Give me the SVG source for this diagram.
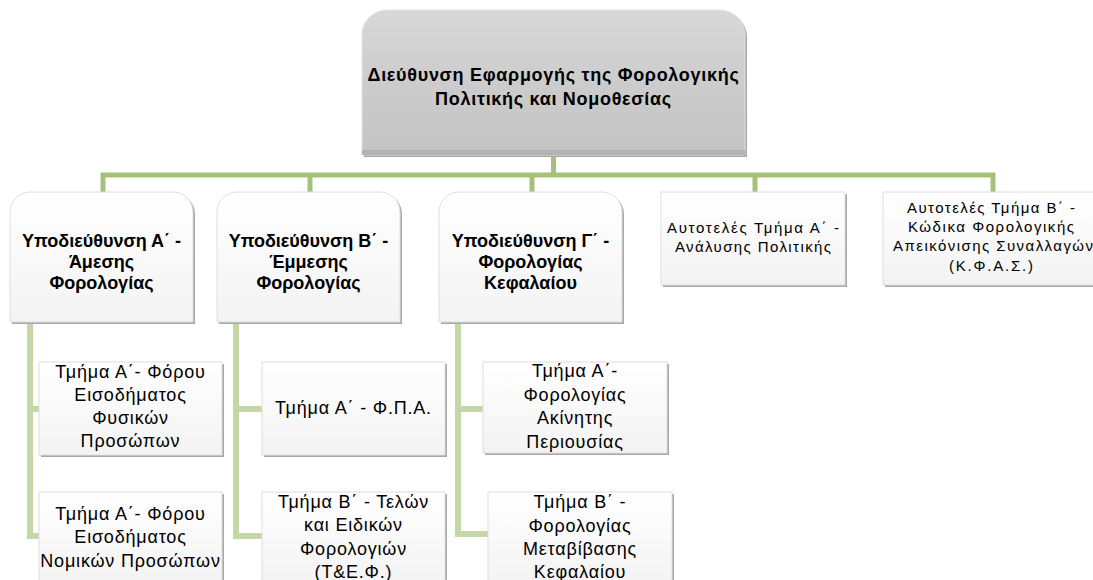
<svg xmlns="http://www.w3.org/2000/svg" width="1093" height="580" viewBox="0 0 1093 580">
<defs>
<linearGradient id="gTop" x1="0" y1="0" x2="0" y2="1">
<stop offset="0" stop-color="#d8d8d8"/><stop offset="0.5" stop-color="#cccccc"/><stop offset="1" stop-color="#c4c4c4"/>
</linearGradient>
<linearGradient id="gWhite" x1="0" y1="0" x2="0" y2="1">
<stop offset="0" stop-color="#ffffff"/><stop offset="1" stop-color="#f3f3f3"/>
</linearGradient>
</defs>
<style>
.shadow{fill:#a8a8a8}
.box{fill:url(#gWhite);stroke:#dedede;stroke-width:1}
.topbox{fill:url(#gTop);stroke:#e2e2e2;stroke-width:1}
.t{font-family:"Liberation Sans",Arial,sans-serif;fill:#000;text-anchor:middle}
.t0{font-size:18px;font-weight:bold;letter-spacing:0.7px}
.tb{font-size:18px;font-weight:bold}
.tm{font-size:18px;letter-spacing:0.8px}
.ts{font-size:15px}
.c1{fill:none;stroke:#a6c27a;stroke-width:5}
.c2{fill:none;stroke:#c5d6a7;stroke-width:6}
</style>

<g id="connectors">
<path class="c1" d="M553.5,155 V175"/>
<path class="c1" d="M103,192 V175 H993 V192"/>
<path class="c1" d="M310,175 V192 M532,175 V192 M755,175 V192"/>
<path class="c2" d="M30,322 V536 H40 M30,409 H40"/>
<path class="c2" d="M236,322 V536 H263 M236,409 H263"/>
<path class="c2" d="M458,322 V534 H489 M458,409 H484"/>
</g>

<g id="n0">
<path class="shadow" d="M364,37 A25,25 0 0 1 389,12 H722 A25,25 0 0 1 747,37 V157 H364 Z"/>
<path class="topbox" d="M362,35 A25,25 0 0 1 387,10 H720 A25,25 0 0 1 745,35 V155 H362 Z"/>
<rect x="362" y="150" width="383" height="5" fill="#b3b3b3"/>
<text class="t t0" x="553.5" y="81">Διεύθυνση Εφαρμογής της Φορολογικής</text>
<text class="t t0" x="553.5" y="105">Πολιτικής και Νομοθεσίας</text>
</g>

<g id="n1">
<path class="shadow" d="M12,214 A20,20 0 0 1 32,194 H175 A20,20 0 0 1 195,214 V324 H12 Z"/>
<path class="box" d="M10,212 A20,20 0 0 1 30,192 H173 A20,20 0 0 1 193,212 V322 H10 Z"/>
<text class="t tb" x="101.5" y="247">Υποδιεύθυνση Α΄ -</text>
<text class="t tb" x="101.5" y="268">Άμεσης</text>
<text class="t tb" x="101.5" y="289">Φορολογίας</text>
</g>

<g id="n2">
<path class="shadow" d="M219,214 A20,20 0 0 1 239,194 H382 A20,20 0 0 1 402,214 V324 H219 Z"/>
<path class="box" d="M217,212 A20,20 0 0 1 237,192 H380 A20,20 0 0 1 400,212 V322 H217 Z"/>
<text class="t tb" x="308.5" y="247">Υποδιεύθυνση Β΄ -</text>
<text class="t tb" x="308.5" y="268">Έμμεσης</text>
<text class="t tb" x="308.5" y="289">Φορολογίας</text>
</g>

<g id="n3">
<path class="shadow" d="M441,214 A20,20 0 0 1 461,194 H604 A20,20 0 0 1 624,214 V324 H441 Z"/>
<path class="box" d="M439,212 A20,20 0 0 1 459,192 H602 A20,20 0 0 1 622,212 V322 H439 Z"/>
<text class="t tb" x="530.5" y="247">Υποδιεύθυνση Γ΄ -</text>
<text class="t tb" x="530.5" y="268">Φορολογίας</text>
<text class="t tb" x="530.5" y="289">Κεφαλαίου</text>
</g>

<g id="n4">
<rect class="shadow" x="663" y="194" width="184" height="93"/>
<rect class="box" x="661" y="192" width="184" height="93"/>
<text class="t ts" x="753" y="233" textLength="172" lengthAdjust="spacing">Αυτοτελές Τμήμα Α΄ -</text>
<text class="t ts" x="753" y="252" textLength="156" lengthAdjust="spacing">Ανάλυσης Πολιτικής</text>
</g>

<g id="n5">
<rect class="shadow" x="885" y="194" width="220" height="93"/>
<rect class="box" x="883" y="192" width="220" height="93"/>
<text class="t ts" x="991" y="213" textLength="168" lengthAdjust="spacing">Αυτοτελές Τμήμα Β΄ -</text>
<text class="t ts" x="991" y="232" textLength="166" lengthAdjust="spacing">Κώδικα Φορολογικής</text>
<text class="t ts" x="993" y="251" textLength="200" lengthAdjust="spacing">Απεικόνισης Συναλλαγών</text>
<text class="t ts" x="991" y="271" textLength="84" lengthAdjust="spacing">(Κ.Φ.Α.Σ.)</text>
</g>

<g id="n6">
<rect class="shadow" x="41" y="364" width="183" height="93"/>
<rect class="box" x="39" y="362" width="183" height="93"/>
<text class="t tm" x="130.5" y="378">Τμήμα Α΄- Φόρου</text>
<text class="t tm" x="130.5" y="401">Εισοδήματος</text>
<text class="t tm" x="130.5" y="424">Φυσικών</text>
<text class="t tm" x="130.5" y="447">Προσώπων</text>
</g>

<g id="n7">
<rect class="shadow" x="41" y="494" width="183" height="93"/>
<rect class="box" x="39" y="492" width="183" height="93"/>
<text class="t tm" x="130.5" y="520">Τμήμα Α΄- Φόρου</text>
<text class="t tm" x="130.5" y="543">Εισοδήματος</text>
<text class="t tm" x="130.5" y="567">Νομικών Προσώπων</text>
</g>

<g id="n8">
<rect class="shadow" x="264" y="364" width="183" height="93"/>
<rect class="box" x="262" y="362" width="183" height="93"/>
<text class="t tm" x="353.5" y="414">Τμήμα Α΄ - Φ.Π.Α.</text>
</g>

<g id="n9">
<rect class="shadow" x="264" y="494" width="183" height="93"/>
<rect class="box" x="262" y="492" width="183" height="93"/>
<text class="t tm" x="353.5" y="508">Τμήμα Β΄ - Τελών</text>
<text class="t tm" x="353.5" y="531">και Ειδικών</text>
<text class="t tm" x="353.5" y="555">Φορολογιών</text>
<text class="t tm" x="353.5" y="578">(Τ&amp;Ε.Φ.)</text>
</g>

<g id="n10">
<rect class="shadow" x="485" y="364" width="184" height="91"/>
<rect class="box" x="483" y="362" width="184" height="91"/>
<text class="t tm" x="575" y="377">Τμήμα Α΄-</text>
<text class="t tm" x="575" y="401">Φορολογίας</text>
<text class="t tm" x="575" y="424">Ακίνητης</text>
<text class="t tm" x="575" y="448">Περιουσίας</text>
</g>

<g id="n11">
<rect class="shadow" x="490" y="494" width="184" height="93"/>
<rect class="box" x="488" y="492" width="184" height="93"/>
<text class="t tm" x="580" y="508">Τμήμα Β΄ -</text>
<text class="t tm" x="580" y="532">Φορολογίας</text>
<text class="t tm" x="580" y="555">Μεταβίβασης</text>
<text class="t tm" x="580" y="578">Κεφαλαίου</text>
</g>
</svg>
